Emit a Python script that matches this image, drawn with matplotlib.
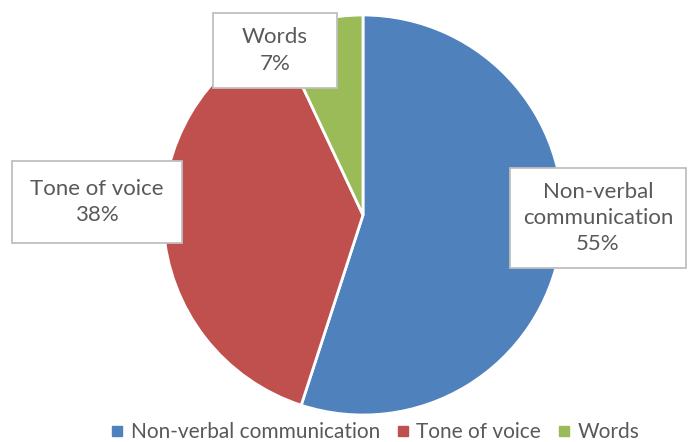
import matplotlib
matplotlib.use("Agg")
import matplotlib.pyplot as plt
from matplotlib.lines import Line2D
from matplotlib.patches import Rectangle

categories = ["Non-verbal communication", "Tone of voice", "Words"]
values = [55, 38, 7]
label_texts = ["Non-verbal\ncommunication\n55%", "Tone of voice\n38%", "Words\n7%"]
colors = ["#4F81BD", "#C0504D", "#9BBB59"]

plt.rcParams['font.family'] = ['Lato', 'DejaVu Sans']
W, H = 688, 442
fig = plt.figure(figsize=(W/100, H/100), dpi=100)
cx, cy, r = 363, 215, 200
ax = fig.add_axes([(cx - r)/W, (H - cy - r)/H, 2*r/W, 2*r/H])
wedges, _ = ax.pie(values, colors=colors, startangle=90, counterclock=False,
                   radius=1, wedgeprops=dict(edgecolor="white", linewidth=2))
ax.set_xlim(-1, 1)
ax.set_ylim(-1, 1)
ax.set_aspect('equal')
ax.axis('off')

# label boxes in pixel coordinates: (left, top, right, bottom)
label_boxes = [(510, 168, 686, 268), (12, 161, 182, 243), (213, 13, 337, 88)]
for txt, (x0, y0, x1, y1) in zip(label_texts, label_boxes):
    rect = Rectangle((x0/W, 1 - y1/H), (x1 - x0)/W, (y1 - y0)/H,
                     transform=fig.transFigure, fc='white', ec='#BFBFBF', lw=1.3,
                     zorder=5)
    fig.add_artist(rect)
    fig.text((x0 + x1)/2/W, 1 - (y0 + y1)/2/H, txt, ha='center', va='center',
             fontsize=16, color='#595959', linespacing=1.38, zorder=6)

handles = [Line2D([0], [0], marker='s', linestyle='none', markersize=7,
                  markerfacecolor=c, markeredgecolor=c) for c in colors]
fig.legend(handles, categories, loc='center', bbox_to_anchor=(373/W, 1 - 432/H),
           ncol=3, frameon=False, fontsize=15, handletextpad=0.15,
           columnspacing=0.6, handlelength=1.0, labelcolor='#595959')

fig.savefig("out.png", dpi=100, facecolor='white')
